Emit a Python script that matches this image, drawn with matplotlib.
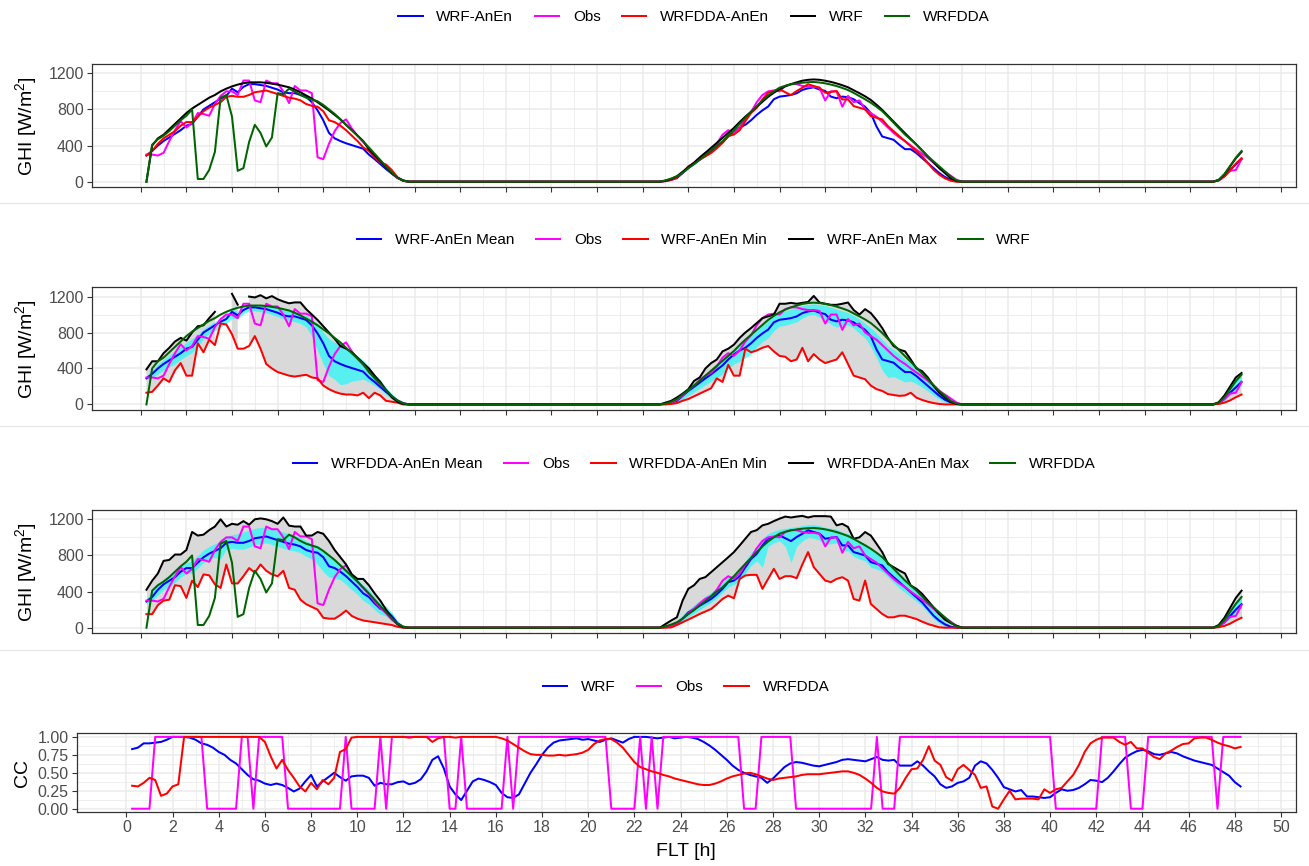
import numpy as np
import matplotlib
matplotlib.use("Agg")
import matplotlib.pyplot as plt
from matplotlib.lines import Line2D
from matplotlib.ticker import FixedLocator, NullFormatter

plt.rcParams['font.family'] = ['Liberation Sans', 'DejaVu Sans']
plt.rcParams['mathtext.fontset'] = 'custom'
plt.rcParams['mathtext.rm'] = 'Liberation Sans'

# ---------------------------------------------------------------- time axis
# forecast lead time, 15-minute steps from 0.25 h to 48.25 h
flt = np.arange(1, 194) * 0.25
NIGHT1 = 44   # 12.00 .. 22.75 h, GHI = 0
NIGHT2 = 43   # 36.25 .. 46.75 h, GHI = 0

# ---------------------------------------------------------------- GHI data
# day 1: 0.25 .. 11.75 h (47 values), day 2: 23.00 .. 36.00 h (53 values),
# day 3: 47.00 .. 48.25 h (6 values)
obs_d1 = [300, 300, 290, 320, 450, 570, 670, 600, 650, 760, 750, 730, 860, 950, 1000, 1000,
          960, 1120, 1120, 900, 880, 1120, 1090, 1090, 1000, 870, 1060, 1010, 1010, 980, 270,
          250, 420, 560, 650, 690, 590, 510, 440, 370, 290, 220, 160, 90, 40, 10, 0]
obs_d2 = [5, 20, 50, 100, 160, 210, 270, 320, 350, 420, 520, 570, 540, 600, 700, 770, 880,
          960, 1000, 1010, 1000, 1060, 1080, 1080, 1060, 1050, 1050, 1040, 900, 1000, 1000,
          830, 950, 880, 900, 800, 760, 720, 660, 600, 540, 490, 450, 400, 355, 310, 263, 210,
          152, 110, 67, 22, 0]
obs_d3 = [0, 15, 60, 120, 130, 250]

wrf_d1 = [0, 400, 480, 520, 580, 640, 700, 760, 810, 850, 890, 930, 960, 1000, 1030, 1055,
          1075, 1090, 1100, 1100, 1100, 1095, 1085, 1075, 1060, 1045, 1020, 990, 955, 920, 880,
          835, 790, 740, 690, 630, 570, 510, 450, 360, 295, 230, 160, 95, 45, 12, 0]
wrf_d2 = [10, 30, 60, 110, 160, 210, 265, 320, 375, 430, 485, 540, 595, 660, 720, 775, 830,
          885, 940, 985, 1025, 1055, 1080, 1100, 1118, 1128, 1132, 1128, 1118, 1105, 1088,
          1068, 1045, 1013, 980, 945, 905, 852, 795, 730, 665, 600, 537, 473, 410, 345, 280,
          215, 150, 95, 40, 10, 0]
wrf_d3 = [0, 20, 80, 170, 260, 330]

wrfdda_d1 = [0, 410, 470, 510, 560, 620, 680, 730, 800, 30, 30, 130, 330, 930, 960, 720, 120,
             150, 440, 630, 540, 390, 490, 980, 970, 1030, 1000, 960, 930, 910, 890, 850, 800,
             750, 690, 630, 570, 510, 445, 380, 310, 240, 170, 105, 45, 12, 0]
wrfdda_d2 = [15, 35, 60, 100, 150, 195, 245, 295, 348, 400, 448, 510, 570, 640, 707, 772, 837,
             900, 955, 1000, 1041, 1062, 1078, 1088, 1096, 1101, 1104, 1098, 1089, 1075, 1059,
             1038, 1015, 983, 948, 912, 874, 830, 781, 718, 652, 587, 522, 466, 411, 346, 281,
             225, 170, 115, 59, 15, 0]
wrfdda_d3 = [0, 20, 85, 175, 265, 340]

# WRF analog ensemble
wrf_anen_mean_d1 = [290, 340, 400, 450, 490, 530, 570, 620, 640, 720, 800, 840, 880, 920, 950,
                    1030, 990, 1050, 1080, 1080, 1070, 1060, 1040, 1020, 990, 980, 980, 960, 940,
                    880, 790, 680, 540, 480, 450, 425, 405, 385, 365, 300, 250, 195, 140, 90, 45,
                    15, 0]
wrf_anen_mean_d2 = [10, 20, 40, 95, 150, 195, 243, 290, 335, 385, 434, 500, 556, 600, 630, 680,
                    740, 790, 832, 913, 942, 950, 960, 979, 1016, 1034, 1045, 1020, 1005, 942, 924,
                    942, 935, 913, 869, 830, 758, 611, 500, 482, 464, 409, 360, 360, 316, 261, 206,
                    151, 96, 52, 22, 5, 0]
wrf_anen_mean_d3 = [0, 15, 60, 130, 190, 250]

wrf_anen_min_d1 = [130, 140, 210, 290, 250, 380, 460, 320, 320, 680, 580, 720, 660, 900, 890,
                   780, 620, 620, 650, 760, 620, 450, 400, 360, 340, 320, 310, 320, 330, 300, 290,
                   210, 170, 140, 120, 110, 110, 100, 130, 70, 130, 100, 40, 30, 20, 0, 0]
wrf_anen_min_d2 = [0, 5, 15, 40, 60, 90, 120, 150, 180, 290, 250, 440, 320, 320, 620, 580, 600,
                   630, 650, 590, 540, 530, 480, 500, 630, 480, 560, 500, 460, 480, 500, 580, 450,
                   320, 300, 280, 210, 170, 150, 115, 105, 95, 100, 130, 75, 50, 30, 15, 5, 0, 0,
                   0, 0]
wrf_anen_min_d3 = [0, 5, 20, 45, 80, 110]

wrf_anen_max_d1 = [390, 480, 480, 570, 630, 700, 740, 710, 800, 870, 880, 960, 1030, 1290, 1290,
                   1230, 1110, 1290, 1200, 1190, 1215, 1180, 1205, 1170, 1145, 1125, 1135, 1135,
                   1060, 1000, 940, 870, 800, 730, 650, 620, 580, 520, 460, 400, 320, 250, 160,
                   80, 30, 5, 0]
wrf_anen_max_d2 = [20, 40, 77, 120, 169, 261, 300, 400, 460, 500, 590, 620, 665, 740, 800, 850,
                   905, 960, 980, 1000, 1120, 1120, 1130, 1120, 1130, 1140, 1207, 1134, 1120,
                   1108, 1108, 1120, 1134, 1050, 1000, 1060, 1016, 940, 850, 740, 650, 610, 590,
                   500, 400, 370, 300, 206, 130, 77, 30, 5, 0]
wrf_anen_max_d3 = [0, 25, 100, 200, 300, 350]

wrf_anen_lo_d1 = [280, 300, 340, 380, 420, 450, 500, 540, 580, 650, 730, 790, 820, 860, 900, 960,
                  950, 1010, 1040, 1040, 1030, 1020, 1000, 980, 950, 930, 920, 900, 860, 760, 600,
                  450, 320, 280, 220, 230, 260, 270, 280, 250, 210, 170, 110, 60, 20, 0, 0]
wrf_anen_hi_d1 = [320, 380, 450, 500, 550, 600, 640, 690, 730, 780, 840, 880, 920, 960, 1000,
                  1060, 1040, 1090, 1110, 1110, 1110, 1100, 1090, 1070, 1050, 1040, 1030, 1010,
                  990, 950, 900, 800, 730, 690, 670, 640, 590, 540, 490, 420, 340, 270, 190, 120,
                  55, 15, 0]
wrf_anen_lo_d2 = [0, 10, 25, 60, 100, 140, 180, 220, 260, 300, 340, 400, 450, 480, 520, 560, 640,
                  700, 740, 820, 870, 880, 900, 920, 960, 990, 1000, 970, 940, 890, 860, 880, 880,
                  850, 790, 740, 640, 520, 380, 300, 310, 280, 250, 260, 230, 190, 150, 100, 60,
                  25, 8, 0, 0]
wrf_anen_hi_d2 = [10, 30, 60, 120, 180, 230, 280, 330, 380, 430, 490, 550, 610, 660, 720, 770,
                  830, 880, 930, 990, 1020, 1040, 1060, 1080, 1100, 1110, 1120, 1110, 1100, 1080,
                  1060, 1040, 1020, 990, 950, 900, 850, 790, 720, 650, 610, 560, 500, 450, 400,
                  340, 280, 220, 160, 100, 45, 10, 0]
wrf_anen_lo_d3 = [0, 10, 45, 100, 160, 210]
wrf_anen_hi_d3 = [0, 22, 85, 180, 270, 320]

# WRFDDA analog ensemble
dda_anen_mean_d1 = [290, 340, 420, 480, 520, 560, 620, 660, 660, 720, 780, 820, 850, 880, 940,
                    950, 940, 940, 960, 990, 1000, 1010, 990, 970, 950, 930, 920, 900, 860, 840,
                    830, 780, 680, 660, 620, 570, 510, 450, 380, 340, 270, 210, 190, 130, 50, 10, 0]
dda_anen_mean_d2 = [10, 20, 45, 100, 170, 205, 244, 280, 318, 370, 430, 504, 522, 570, 670, 760,
                    818, 911, 985, 1004, 1022, 990, 959, 1004, 1040, 1078, 1059, 1041, 985, 995,
                    1004, 911, 911, 837, 818, 800, 726, 707, 689, 615, 559, 504, 448, 393, 337,
                    281, 207, 133, 78, 37, 11, 0, 0]
dda_anen_mean_d3 = [0, 15, 60, 130, 200, 260]

dda_anen_min_d1 = [150, 150, 250, 300, 310, 470, 460, 330, 520, 450, 590, 580, 480, 440, 700,
                   490, 490, 570, 660, 610, 700, 630, 590, 570, 630, 440, 420, 310, 260, 230, 200,
                   110, 100, 100, 140, 190, 130, 100, 80, 70, 60, 50, 40, 30, 10, 0, 0]
dda_anen_min_d2 = [0, 3, 30, 60, 89, 120, 152, 180, 207, 260, 318, 355, 326, 540, 578, 585, 585,
                   430, 540, 652, 540, 570, 570, 548, 700, 837, 670, 596, 522, 504, 540, 559, 522,
                   318, 300, 522, 263, 207, 152, 115, 115, 133, 133, 115, 96, 67, 41, 22, 4, 0, 0,
                   0, 0]
dda_anen_min_d3 = [0, 5, 20, 45, 80, 110]

dda_anen_max_d1 = [420, 520, 600, 740, 750, 810, 810, 860, 1060, 1020, 1030, 1080, 1120, 1200,
                   1120, 1150, 1140, 1180, 1140, 1200, 1210, 1200, 1180, 1150, 1220, 1130, 1120,
                   1120, 1020, 1020, 1060, 1040, 960, 860, 780, 700, 590, 540, 540, 470, 380, 300,
                   200, 110, 40, 5, 0]
dda_anen_max_d2 = [40, 80, 115, 300, 430, 470, 540, 560, 615, 670, 726, 780, 837, 910, 985, 1060,
                   1080, 1133, 1150, 1180, 1207, 1230, 1220, 1230, 1238, 1220, 1235, 1235, 1235,
                   1230, 1133, 1150, 1115, 985, 1000, 1059, 1020, 930, 837, 707, 670, 633, 600,
                   467, 430, 374, 300, 226, 152, 89, 52, 22, 0]
dda_anen_max_d3 = [0, 30, 110, 220, 330, 410]

dda_anen_lo_d1 = [270, 300, 360, 420, 460, 500, 560, 600, 600, 660, 720, 760, 780, 760, 870, 880,
                  870, 870, 890, 920, 930, 940, 920, 900, 880, 860, 850, 830, 790, 760, 700, 620,
                  560, 550, 530, 480, 420, 370, 300, 260, 200, 150, 130, 80, 25, 5, 0]
dda_anen_hi_d1 = [320, 400, 480, 540, 580, 630, 680, 720, 740, 800, 860, 900, 930, 960, 1010,
                  1030, 1040, 1060, 1080, 1100, 1110, 1110, 1090, 1080, 1060, 1040, 1020, 1000,
                  960, 930, 910, 860, 780, 750, 710, 660, 600, 540, 470, 420, 340, 270, 240, 170,
                  80, 20, 0]
dda_anen_lo_d2 = [0, 10, 30, 70, 120, 160, 200, 240, 280, 330, 390, 450, 480, 520, 600, 690, 740,
                  670, 900, 940, 960, 900, 720, 900, 960, 1000, 990, 970, 920, 930, 940, 850, 850,
                  790, 760, 740, 670, 650, 620, 560, 500, 440, 390, 340, 290, 240, 170, 100, 50,
                  15, 3, 0, 0]
dda_anen_hi_d2 = [15, 40, 80, 140, 200, 250, 300, 350, 390, 440, 500, 560, 590, 640, 740, 830,
                  900, 990, 1040, 1070, 1090, 1100, 1110, 1120, 1130, 1140, 1140, 1130, 1110,
                  1100, 1090, 1060, 1040, 1000, 960, 930, 880, 840, 790, 730, 670, 600, 540, 480,
                  420, 350, 280, 200, 130, 70, 25, 5, 0]
dda_anen_lo_d3 = [0, 10, 45, 100, 170, 220]
dda_anen_hi_d3 = [0, 25, 90, 190, 290, 350]

# ---------------------------------------------------------------- CC data
# rows: hour 0 (0.25, 0.50, 0.75), hours 1..47 (h.00, h.25, h.50, h.75), hour 48 (48.00, 48.25)
cc_wrf = [
    [0.83, 0.85, 0.91],
    [0.91, 0.92, 0.93, 0.96], [1.00, 1.00, 1.00, 0.99], [0.96, 0.91, 0.89, 0.85],
    [0.79, 0.75, 0.68, 0.63], [0.55, 0.47, 0.41, 0.39], [0.35, 0.33, 0.35, 0.33],
    [0.29, 0.24, 0.28, 0.38], [0.47, 0.31, 0.38, 0.44], [0.50, 0.44, 0.39, 0.45],
    [0.46, 0.46, 0.43, 0.32], [0.36, 0.34, 0.34, 0.37], [0.38, 0.34, 0.36, 0.41],
    [0.52, 0.68, 0.73, 0.56], [0.31, 0.20, 0.12, 0.25], [0.38, 0.42, 0.40, 0.37],
    [0.33, 0.22, 0.16, 0.15], [0.20, 0.35, 0.50, 0.62], [0.75, 0.85, 0.92, 0.95],
    [0.96, 0.97, 0.98, 0.96], [0.97, 0.95, 0.93, 0.96], [0.98, 0.95, 0.92, 0.97],
    [1.00, 1.00, 1.00, 0.99], [0.98, 0.99, 1.00, 0.98], [0.99, 1.00, 0.99, 0.97],
    [0.93, 0.88, 0.82, 0.75], [0.68, 0.60, 0.54, 0.50], [0.47, 0.45, 0.43, 0.36],
    [0.42, 0.50, 0.58, 0.63], [0.65, 0.64, 0.62, 0.60], [0.59, 0.61, 0.63, 0.65],
    [0.68, 0.69, 0.68, 0.67], [0.66, 0.69, 0.72, 0.68], [0.67, 0.68, 0.60, 0.60],
    [0.60, 0.66, 0.60, 0.52], [0.45, 0.34, 0.29, 0.31], [0.36, 0.38, 0.43, 0.60],
    [0.66, 0.63, 0.54, 0.43], [0.30, 0.27, 0.24, 0.26], [0.17, 0.17, 0.16, 0.15],
    [0.16, 0.22, 0.27, 0.25], [0.26, 0.29, 0.34, 0.40], [0.39, 0.37, 0.43, 0.52],
    [0.62, 0.71, 0.76, 0.80], [0.82, 0.80, 0.76, 0.75], [0.77, 0.79, 0.77, 0.73],
    [0.70, 0.67, 0.65, 0.63], [0.61, 0.56, 0.51, 0.46],
    [0.37, 0.31],
]
cc_wrfdda = [
    [0.32, 0.31, 0.36],
    [0.43, 0.40, 0.18, 0.21], [0.31, 0.34, 1.00, 1.00], [1.00, 1.00, 1.00, 1.00],
    [1.00, 1.00, 1.00, 1.00], [1.00, 1.00, 1.00, 1.00], [0.93, 0.73, 0.56, 0.68],
    [0.54, 0.43, 0.31, 0.24], [0.36, 0.27, 0.40, 0.34], [0.43, 0.79, 0.83, 0.99],
    [1.00, 1.00, 1.00, 1.00], [1.00, 1.00, 1.00, 1.00], [1.00, 0.99, 1.00, 1.00],
    [1.00, 0.93, 0.98, 1.00], [1.00, 0.99, 1.00, 1.00], [1.00, 1.00, 1.00, 1.00],
    [1.00, 0.98, 0.95, 0.90], [0.85, 0.80, 0.76, 0.75], [0.75, 0.74, 0.74, 0.75],
    [0.74, 0.75, 0.76, 0.78], [0.82, 0.90, 0.95, 0.97], [0.97, 0.92, 0.85, 0.75],
    [0.65, 0.58, 0.55, 0.52], [0.50, 0.47, 0.45, 0.42], [0.40, 0.38, 0.36, 0.34],
    [0.33, 0.33, 0.35, 0.38], [0.42, 0.45, 0.47, 0.49], [0.50, 0.48, 0.45, 0.42],
    [0.40, 0.42, 0.43, 0.44], [0.45, 0.47, 0.48, 0.48], [0.48, 0.49, 0.50, 0.51],
    [0.52, 0.52, 0.50, 0.47], [0.42, 0.36, 0.29, 0.24], [0.22, 0.21, 0.29, 0.43],
    [0.55, 0.56, 0.68, 0.87], [0.67, 0.61, 0.44, 0.39], [0.55, 0.61, 0.54, 0.47],
    [0.29, 0.31, 0.03, 0.00], [0.13, 0.25, 0.13, 0.14], [0.14, 0.14, 0.13, 0.27],
    [0.22, 0.27, 0.29, 0.38], [0.47, 0.61, 0.79, 0.91], [0.96, 0.99, 0.99, 0.99],
    [0.93, 0.89, 0.93, 0.84], [0.84, 0.78, 0.72, 0.69], [0.77, 0.81, 0.86, 0.90],
    [0.91, 0.98, 0.99, 0.99], [0.96, 0.92, 0.89, 0.87],
    [0.84, 0.86],
]
cc_obs = [
    [0, 0, 0],
    [0, 1, 1, 1], [1, 1, 1, 1], [1, 1, 0, 0], [0, 0, 0, 0], [1, 1, 0, 1], [1, 1, 1, 1],
    [0, 0, 0, 0], [0, 0, 0, 0], [0, 0, 1, 0], [0, 0, 0, 0], [1, 0, 1, 1], [1, 1, 1, 1],
    [1, 1, 1, 1], [0, 0, 1, 0], [0, 0, 0, 0], [0, 0, 1, 0], [1, 1, 1, 1], [1, 1, 1, 1],
    [1, 1, 1, 1], [1, 1, 1, 1], [0, 0, 0, 0], [0, 1, 0, 1], [0, 1, 1, 1], [1, 1, 1, 1],
    [1, 1, 1, 1], [1, 1, 1, 0], [0, 0, 1, 1], [1, 1, 1, 1], [0, 0, 0, 0], [0, 0, 0, 0],
    [0, 0, 0, 0], [0, 0, 1, 0], [0, 0, 1, 1], [1, 1, 1, 1], [1, 1, 1, 1], [1, 1, 1, 1],
    [1, 1, 1, 1], [1, 1, 1, 1], [1, 1, 1, 1], [1, 0, 0, 0], [0, 0, 0, 0], [0, 1, 1, 1],
    [1, 1, 0, 0], [0, 1, 1, 1], [1, 1, 1, 1], [1, 1, 1, 1], [1, 0, 1, 1],
    [1, 1],
]

# ---------------------------------------------------------------- helpers
GHI_LIMIT = 1241.0          # upper limit of the GHI scale, values above are dropped


def ghi(day1, day2, day3):
    v = np.concatenate([day1, np.zeros(NIGHT1), day2, np.zeros(NIGHT2), day3]).astype(float)
    assert v.size == flt.size, v.size
    v[v > GHI_LIMIT] = np.nan
    return v


def cc(rows):
    v = np.array([x for r in rows for x in r], dtype=float)
    assert v.size == flt.size, v.size
    return v


obs = ghi(obs_d1, obs_d2, obs_d3)
wrf = ghi(wrf_d1, wrf_d2, wrf_d3)
wrfdda = ghi(wrfdda_d1, wrfdda_d2, wrfdda_d3)
wrf_mean = ghi(wrf_anen_mean_d1, wrf_anen_mean_d2, wrf_anen_mean_d3)
wrf_min = ghi(wrf_anen_min_d1, wrf_anen_min_d2, wrf_anen_min_d3)
wrf_max = ghi(wrf_anen_max_d1, wrf_anen_max_d2, wrf_anen_max_d3)
wrf_lo = ghi(wrf_anen_lo_d1, wrf_anen_lo_d2, wrf_anen_lo_d3)
wrf_hi = ghi(wrf_anen_hi_d1, wrf_anen_hi_d2, wrf_anen_hi_d3)
dda_mean = ghi(dda_anen_mean_d1, dda_anen_mean_d2, dda_anen_mean_d3)
dda_min = ghi(dda_anen_min_d1, dda_anen_min_d2, dda_anen_min_d3)
dda_max = ghi(dda_anen_max_d1, dda_anen_max_d2, dda_anen_max_d3)
dda_lo = ghi(dda_anen_lo_d1, dda_anen_lo_d2, dda_anen_lo_d3)
dda_hi = ghi(dda_anen_hi_d1, dda_anen_hi_d2, dda_anen_hi_d3)

cc_w = cc(cc_wrf)
cc_d = cc(cc_wrfdda)
cc_o = cc(cc_obs)

# ---------------------------------------------------------------- styling
BLUE, MAGENTA, RED, BLACK, GREEN = '#0000FF', '#FF00FF', '#FF0000', '#000000', '#006400'
GREY_RIBBON = '#D9D9D9'
CYAN = '#00FFFF'
GRID = '#EBEBEB'
BORDER = '#333333'
TICKTXT = '#4D4D4D'
LW = 1.45

W, H, DPI = 1309, 866, 100
fig = plt.figure(figsize=(W / DPI, H / DPI), dpi=DPI)
fig.patch.set_facecolor('white')


def px_axes(left, top, right, bottom):
    return fig.add_axes([left / W, 1 - bottom / H, (right - left) / W, (bottom - top) / H])


def style(ax, ylim, yticks, yminor, labels_x):
    ax.set_xlim(-2.15, 50.65)
    ax.set_ylim(*ylim)
    ax.xaxis.set_major_locator(FixedLocator(np.arange(0, 51, 2)))
    ax.xaxis.set_minor_locator(FixedLocator(np.arange(1, 51, 2)))
    ax.yaxis.set_major_locator(FixedLocator(yticks))
    ax.yaxis.set_minor_locator(FixedLocator(yminor))
    ax.grid(True, which='major', color=GRID, lw=1.1, zorder=0)
    ax.grid(True, which='minor', color=GRID, lw=0.6, zorder=0)
    ax.set_axisbelow(True)
    for s in ax.spines.values():
        s.set_color(BORDER)
        s.set_linewidth(0.9)
    ax.tick_params(which='major', length=3.8, width=0.8, color=BORDER,
                   labelsize=11.5, labelcolor=TICKTXT, pad=2)
    ax.tick_params(which='minor', length=0)
    if not labels_x:
        ax.xaxis.set_major_formatter(NullFormatter())


def legend(entries, cy, cx):
    handles = [Line2D([], [], color=c, lw=LW) for c, _ in entries]
    fig.legend(handles, [t for _, t in entries], loc='center',
               bbox_to_anchor=(cx / W, 1 - cy / H), ncol=len(entries), frameon=False,
               fontsize=11, handlelength=1.6, handletextpad=0.9, columnspacing=1.4,
               borderaxespad=0, borderpad=0)


def ylabel(text, x_px, ax):
    bb = ax.get_position()
    fig.text(x_px / W, bb.y0 + bb.height / 2, text, rotation=90, ha='center', va='center',
             fontsize=14)


GHI_YLIM = (-62, 1303)
GHI_TICKS = [0, 400, 800, 1200]
GHI_MINOR = [200, 600, 1000]
ghi_label = 'GHI [W/m$^{2}$]'

# ---- panel 1: deterministic and ensemble-mean forecasts
ax1 = px_axes(91.7, 64, 1296.3, 187.3)
style(ax1, GHI_YLIM, GHI_TICKS, GHI_MINOR, False)
for y, c in [(wrf_mean, BLUE), (obs, MAGENTA), (dda_mean, RED), (wrf, BLACK), (wrfdda, GREEN)]:
    ax1.plot(flt, y, color=c, lw=LW, zorder=3)
legend([(BLUE, 'WRF-AnEn'), (MAGENTA, 'Obs'), (RED, 'WRFDDA-AnEn'), (BLACK, 'WRF'),
        (GREEN, 'WRFDDA')], 17, 694)

# ---- panel 2: WRF analog ensemble spread
ax2 = px_axes(91.7, 287.3, 1296.3, 410)
style(ax2, GHI_YLIM, GHI_TICKS, GHI_MINOR, False)
ax2.fill_between(flt, wrf_min, wrf_max, color=GREY_RIBBON, lw=0, zorder=1)
ax2.fill_between(flt, wrf_lo, wrf_hi, color=CYAN, alpha=0.6, lw=0, zorder=2)
for y, c in [(wrf_mean, BLUE), (obs, MAGENTA), (wrf_min, RED), (wrf_max, BLACK), (wrf, GREEN)]:
    ax2.plot(flt, y, color=c, lw=LW, zorder=3)
legend([(BLUE, 'WRF-AnEn Mean'), (MAGENTA, 'Obs'), (RED, 'WRF-AnEn Min'),
        (BLACK, 'WRF-AnEn Max'), (GREEN, 'WRF')], 240, 694)

# ---- panel 3: WRFDDA analog ensemble spread
ax3 = px_axes(91.7, 510, 1296.3, 633.3)
style(ax3, GHI_YLIM, GHI_TICKS, GHI_MINOR, False)
ax3.fill_between(flt, dda_min, dda_max, color=GREY_RIBBON, lw=0, zorder=1)
ax3.fill_between(flt, dda_lo, dda_hi, color=CYAN, alpha=0.6, lw=0, zorder=2)
for y, c in [(dda_mean, BLUE), (obs, MAGENTA), (dda_min, RED), (dda_max, BLACK), (wrfdda, GREEN)]:
    ax3.plot(flt, y, color=c, lw=LW, zorder=3)
legend([(BLUE, 'WRFDDA-AnEn Mean'), (MAGENTA, 'Obs'), (RED, 'WRFDDA-AnEn Min'),
        (BLACK, 'WRFDDA-AnEn Max'), (GREEN, 'WRFDDA')], 464, 694)

for ax in (ax1, ax2, ax3):
    ylabel(ghi_label, 27, ax)

# ---- panel 4: correlation coefficient
ax4 = px_axes(76.7, 733.3, 1296, 812.3)
style(ax4, (-0.05, 1.05), [0, 0.25, 0.5, 0.75, 1.0], [0.125, 0.375, 0.625, 0.875], True)
ax4.set_yticklabels(['0.00', '0.25', '0.50', '0.75', '1.00'])
ax4.set_xticklabels([str(v) for v in range(0, 51, 2)])
for y, c in [(cc_w, BLUE), (cc_o, MAGENTA), (cc_d, RED)]:
    ax4.plot(flt, y, color=c, lw=LW, zorder=3)
ylabel('CC', 22, ax4)
legend([(BLUE, 'WRF'), (MAGENTA, 'Obs'), (RED, 'WRFDDA')], 687, 686)
fig.text(686 / W, 1 - 852 / H, 'FLT [h]', ha='center', va='center', fontsize=14)

# thin separators between the stacked plots
for yp in (202.5, 426.0, 649.5):
    fig.add_artist(Line2D([0, 1], [1 - yp / H] * 2, color='#E8E8E8', lw=1.0))

fig.savefig('out.png', dpi=DPI, facecolor='white')
